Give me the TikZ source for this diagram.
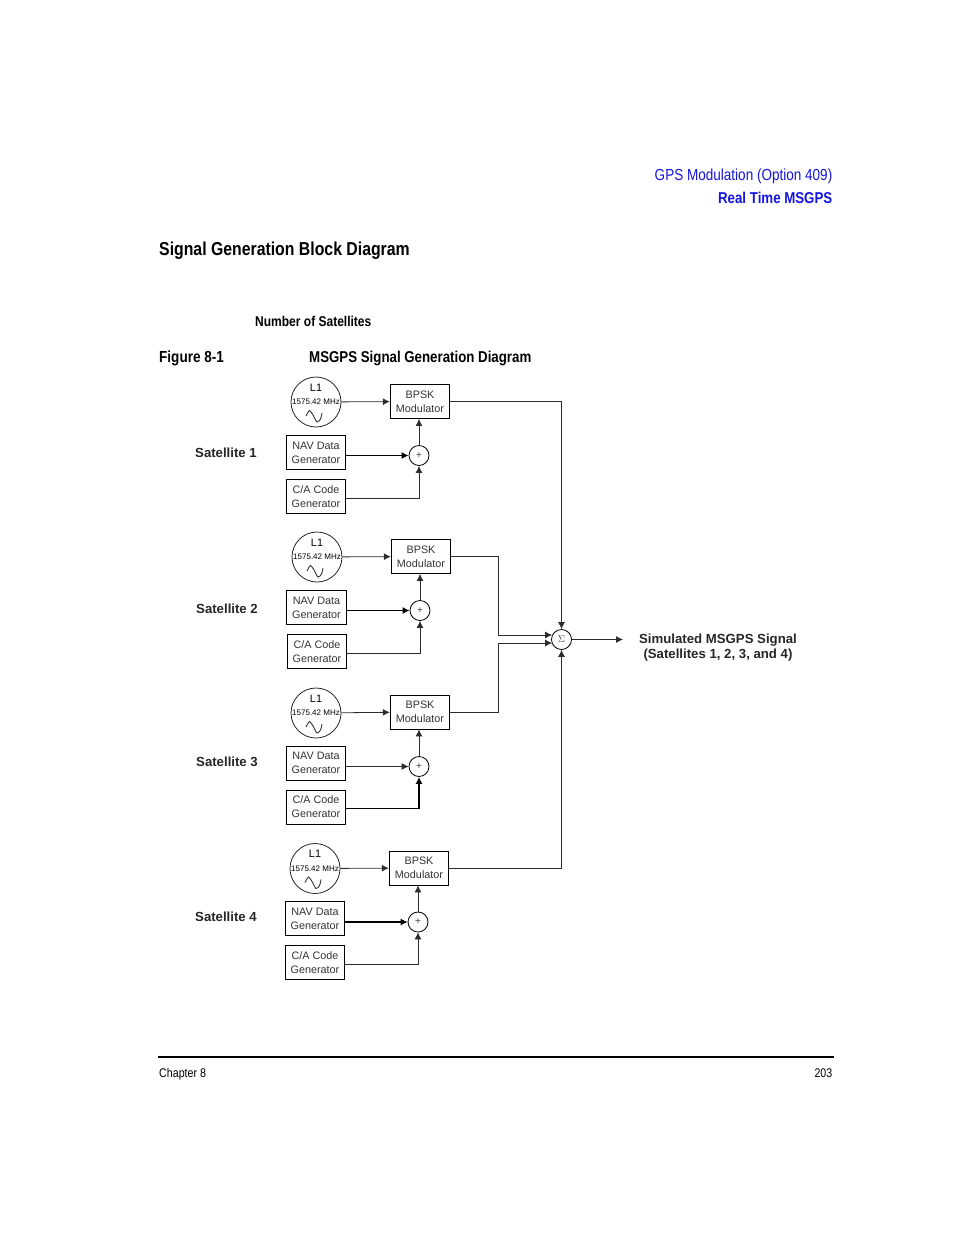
\documentclass[tikz,border=0pt]{standalone}
\usepackage{fontspec}
\setmainfont{Liberation Sans}
\newfontfamily\condfont[FakeStretch=0.846]{Liberation Sans}
\usepackage{amsmath}
\usepackage{amssymb}
\usetikzlibrary{arrows.meta}
\definecolor{headblue}{RGB}{20,20,225}
\definecolor{wire}{RGB}{45,45,45}
\tikzset{
	block/.style={draw=black,line width=0.9pt,minimum width=59.5pt,minimum height=34pt,inner sep=0pt,
		align=center,font=\fontsize{10.8}{14}\selectfont,text=black!80},
	osc/.style={draw=black!85,line width=0.8pt,circle,minimum size=50pt,inner sep=0pt,
		path picture={\draw[line width=0.9pt,black!80,shift={(path picture bounding box.center)}]
			plot[smooth] coordinates {(-10,14) (-6.5,8.5) (-3,13) (1,20) (4.5,17) (6,11)};}},
	adder/.style={draw=black,line width=0.8pt,circle,minimum size=20pt,inner sep=0pt,font=\fontsize{10}{10}\selectfont,text=black!75},
	sig/.style={-{Latex[length=7pt,width=7pt]},draw=wire,line width=0.8pt},
	sigthick/.style={sig,draw=black,line width=1.2pt},
	satlabel/.style={anchor=west,inner sep=0pt,font=\fontsize{13.2}{14}\selectfont\bfseries,text=black!85},
	sumlabel/.style={inner sep=0pt,align=center,font=\fontsize{13.2}{15}\selectfont\bfseries,text=black!85},
	head/.style={inner sep=0pt,font=\condfont\fontsize{16}{18}\selectfont},
	foot/.style={inner sep=0pt,font=\condfont\fontsize{12.6}{14}\selectfont}
}
\newcommand{\oscText}{\makebox[0pt]{\smash{\raisebox{11pt}{\parbox[t]{50pt}{\centering\fontsize{10.8}{8}\selectfont L1\\[5.5pt]\fontsize{8}{8}\selectfont 1575.42 MHz}}}}}
\begin{document}
\begin{tikzpicture}[x=1pt,y=-1pt]
	\useasboundingbox (0,0) rectangle (954,1235);
	% page heading
	\node[head,anchor=east,text=headblue] (chaptitle) at (832.5,176) {GPS Modulation (Option 409)};
	\node[head,anchor=east,text=headblue] (sectitle) at (832.5,197.5) {\fontsize{15.7}{18}\selectfont\bfseries Real Time MSGPS};
	\node[head,anchor=west] (blocktitle) at (159,250.5) {\fontsize{18.7}{21}\selectfont\bfseries Signal Generation Block Diagram};
	\node[head,anchor=west] (numsat) at (255,321) {\fontsize{14.2}{16}\selectfont\bfseries Number of Satellites};
	\node[head,anchor=west] (fignum) at (159,358) {\bfseries Figure 8-1};
	\node[head,anchor=west] (figtitle) at (309,358) {\fontsize{15.7}{18}\selectfont\bfseries MSGPS Signal Generation Diagram};
	% satellite 1
	\node[satlabel] (sat1) at (195,452.5) {Satellite 1};
	\node[osc] (osc1) at (316,402) {\oscText};
	\node[block] (mod1) at (420,401.5) {BPSK\\Modulator};
	\node[block] (nav1) at (316,452.5) {NAV Data\\Generator};
	\node[block] (ca1) at (316,496.5) {C/A Code\\Generator};
	\node[adder] (add1) at (419,455.5) {+};
	% satellite 2
	\node[satlabel] (sat2) at (196,608.5) {Satellite 2};
	\node[osc] (osc2) at (317,557) {\oscText};
	\node[block] (mod2) at (421,556.5) {BPSK\\Modulator};
	\node[block] (nav2) at (316.5,607.5) {NAV Data\\Generator};
	\node[block] (ca2) at (317,651.5) {C/A Code\\Generator};
	\node[adder] (add2) at (420,610.5) {+};
	% satellite 3
	\node[satlabel] (sat3) at (196,761.5) {Satellite 3};
	\node[osc] (osc3) at (316,713) {\oscText};
	\node[block] (mod3) at (420,712) {BPSK\\Modulator};
	\node[block] (nav3) at (316,763) {NAV Data\\Generator};
	\node[block] (ca3) at (316,807) {C/A Code\\Generator};
	\node[adder] (add3) at (419,766.5) {+};
	% satellite 4
	\node[satlabel] (sat4) at (195,916.5) {Satellite 4};
	\node[osc] (osc4) at (315,868.5) {\oscText};
	\node[block] (mod4) at (419,868) {BPSK\\Modulator};
	\node[block] (nav4) at (315,918.5) {NAV Data\\Generator};
	\node[block] (ca4) at (315,962.5) {C/A Code\\Generator};
	\node[adder] (add4) at (418,922) {+};
	% summing point
	\node[adder] (sum) at (561.5,639.5) {$\Sigma$};
	\coordinate (out) at (623,639.5);
	\coordinate (bus2) at (498,635);
	\coordinate (bus3) at (498,643);
	\node[sumlabel] (simsig) at (718,648) {Simulated MSGPS Signal\\(Satellites 1, 2, 3, and 4)};
	% wiring
	\draw[sig] (osc1) -- (mod1);
	\draw[sigthick] (nav1.east |- add1) -- (add1);
	\draw[sig] ([yshift=-1.5pt]ca1.east) -| (add1);
	\draw[sig] (add1) -- (add1 |- mod1.south);
	\draw[sig] (osc2) -- (mod2);
	\draw[sigthick] (nav2.east |- add2) -- (add2);
	\draw[sig] ([yshift=-1.5pt]ca2.east) -| (add2);
	\draw[sig] (add2) -- (add2 |- mod2.south);
	\draw[sig] (osc3) -- (mod3);
	\draw[sig] (nav3.east |- add3) -- (add3);
	\draw[sigthick] ([yshift=-1.5pt]ca3.east) -| (add3);
	\draw[sig] (add3) -- (add3 |- mod3.south);
	\draw[sig] (osc4) -- (mod4);
	\draw[sigthick] (nav4.east |- add4) -- (add4);
	\draw[sig] ([yshift=-1.5pt]ca4.east) -| (add4);
	\draw[sig] (add4) -- (add4 |- mod4.south);
	\draw[sig] (mod1.east) -| (sum);
	\draw[sig] (mod2.east) -| (bus2) -- (bus2 -| sum.155);
	\draw[sig] (mod3.east) -| (bus3) -- (bus3 -| sum.205);
	\draw[sig] (mod4.east) -| (sum);
	\draw[sig] (sum) -- (out);
	% page foot
	\coordinate (ruleleft) at (158,1057);
	\coordinate (ruleright) at (834,1057);
	\draw[line width=1.7pt] (ruleleft) -- (ruleright);
	\node[foot,anchor=west] (chapnum) at (159,1074) {Chapter 8};
	\node[foot,anchor=east] (pagenum) at (832.5,1073) {203};
\end{tikzpicture}
\end{document}
